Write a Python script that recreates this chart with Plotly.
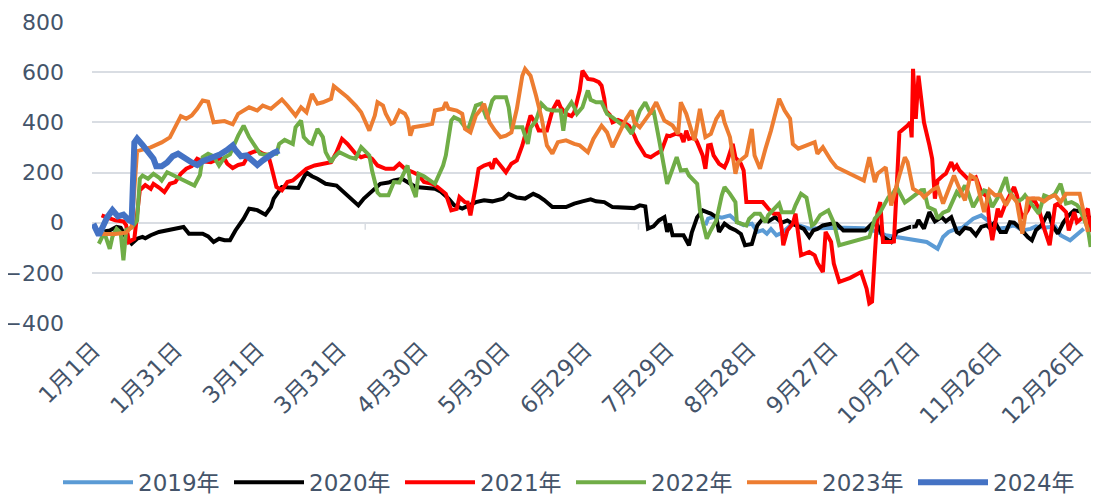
import plotly.graph_objects as go

# ---- axis labels -------------------------------------------------------
tick_days = [0, 30, 60, 90, 120, 150, 180, 210, 240, 270, 300, 330, 360]
tick_text = ["1月1日", "1月31日", "3月1日", "3月31日", "4月30日", "5月30日", "6月29日",
             "7月29日", "8月28日", "9月27日", "10月27日", "11月26日", "12月26日"]
y_ticks = [-400, -200, 0, 200, 400, 600, 800]

# ---- series (day index from 1月1日, value) ------------------------------
d2019 = [224, 225, 228, 230, 233, 236, 238, 241, 243, 245, 246.5, 248, 250, 252, 254.5, 256, 258, 262,
         265, 270, 275, 282, 285, 290, 294, 298, 300, 305, 309, 311, 313, 316, 318, 320, 322, 325, 327,
         331, 334, 337, 340, 343, 345, 348, 352, 354, 357.5, 360.5, 362.5]
v2019 = [-10, 16, 25, 20, 29, 0, -10, -4, -37, -30, -44, -25, -50, -40, -17, 0, -10, -24,
         -22, -20, -20, -22, -30, -50, -57, -68, -70, -77, -104, -57, -37, -24, -20, 0, 16, 29, 10,
         -24, -20, -10, -31, -25, -15, -20, -15, -50, -70, -44, -24]

d2020 = [4, 6, 8.5, 10, 12, 14, 16, 18, 19, 21, 24, 33, 35, 40, 42, 44, 46, 48, 50, 52, 55, 57, 60, 63,
         65, 66, 69, 71, 73, 75, 78, 80, 82, 85, 89, 91, 94, 97, 99, 101, 104, 105, 108, 110, 113, 115,
         118, 125, 127, 130, 132, 135, 137, 140, 143, 146, 150, 152, 155, 158, 161, 163, 165, 168, 173,
         176, 179, 182, 184, 187, 190, 193, 196, 198, 200, 202, 203, 205, 207, 209, 210, 211, 212, 214,
         216, 218, 219, 221, 223, 225, 226, 228, 229, 231, 233, 235, 237, 238.5, 241, 243, 245, 247,
         249.5, 252, 254, 256, 258, 260, 262, 263.5, 265, 267, 270, 272, 274.5, 282.5, 285, 287, 289,
         292, 294, 296, 299, 301, 302, 304, 306, 308, 310.5, 312, 314, 316, 317, 319, 321, 323, 325,
         327, 328, 330, 332, 334, 335.5, 337, 339, 342, 343.5, 345, 347, 348, 349.5, 351, 353, 355,
         357, 359, 361, 363, 365]
v2020 = [-35, -31, -17, -20, -60, -84, -64, -57, -62, -50, -37, -17, -44, -44, -55, -77, -64, -70, -70,
         -31, 16, 56, 50, 32, 62, 96, 142, 142, 138, 138, 200, 185, 175, 155, 148, 129, 100, 69, 96,
         115, 142, 155, 160, 168, 175, 160, 142, 135, 125, 96, 70, 56, 65, 82, 89, 85, 96, 115, 100,
         96, 115, 105, 90, 62, 62, 76, 85, 93, 85, 82, 62, 60, 62, 58, 69, 65, -24, -15, 9, 22, -37,
         -4, -50, -48, -50, -90, -40, 22, 49, 40, 36, 22, -37, -4, -20, -30, -45, -90, -85, -11, 16,
         5, 22, 0, 9, -5, -17, -25, -57, -31, -25, -11, -4, -4, -31, -31, -4, -10, -57, -77, -37, -30,
         -17, -15, 10, -24, 42, 5, 22, 5, 22, -37, -44, -20, -25, -50, -17, -10, -20, 2, -37, -37, 2,
         0, -20, -57, -70, -30, -10, 9, 42, -11, -44, 0, 29, 49, 45, 36, 16]

d2021 = [3, 6, 8, 11, 12, 13, 15, 17, 18, 19, 21, 22, 24, 26, 28, 30, 32, 34, 36, 38, 40, 43, 46, 48,
         49, 51, 53, 55, 57, 60, 62, 64, 65, 67, 69, 71, 73, 76, 78, 81, 85, 87, 89, 91, 93, 96, 98,
         100, 102, 104, 107, 110, 112, 114, 117, 119, 121, 124, 126, 129, 131, 133, 134, 136, 137, 138,
         140, 141, 143, 145, 146, 147, 149, 151, 153, 155, 157, 158, 160, 162, 163, 166, 168, 170, 171,
         173, 175, 176, 178, 179, 181, 183, 185, 186, 187, 187.5, 189, 190, 192, 194, 196, 198, 199,
         202, 204, 206, 208, 210, 211, 213, 215, 216, 217, 218, 220, 221, 223, 224, 225, 226, 227, 229,
         231, 232, 234, 235, 237, 238, 239, 242, 245, 247, 249, 251, 252, 252.5, 254, 256, 257, 259,
         262, 264, 265, 267, 268, 270, 271, 273, 277, 281, 283, 284, 285, 286, 287, 288, 289, 292, 293,
         294, 295, 298, 299, 299.5, 300, 301, 302, 303, 304, 306, 307, 308, 309, 311, 312, 314, 315,
         316, 317, 320, 322, 323, 325, 327, 328, 329, 331, 332, 334, 337, 338, 340, 342, 344, 346, 348,
         350, 352, 353, 356, 357, 359, 360, 362, 364, 365]
v2021 = [29, 15, 9, 5, -10, -77, -64, 129, 142, 150, 135, 155, 140, 122, 155, 162, 195, 215, 225, 255,
         245, 241, 255, 255, 235, 218, 230, 235, 275, 288, 275, 268, 230, 142, 129, 162, 168, 195, 215,
         228, 235, 241, 281, 334, 314, 275, 261, 268, 255, 228, 215, 215, 235, 215, 201, 190, 162, 155,
         142, 115, 49, 55, 102, 82, 80, 29, 148, 215, 228, 235, 215, 255, 228, 201, 235, 248, 308, 347,
         427, 394, 367, 367, 447, 487, 460, 434, 425, 440, 527, 606, 573, 570, 560, 546, 494, 447, 430,
         400, 410, 400, 387, 347, 321, 268, 261, 275, 288, 347, 345, 354, 350, 321, 367, 334, 340, 321,
         268, 215, 308, 310, 268, 235, 221, 245, 314, 260, 235, 208, 82, 82, 82, 56, 36, 36, -30, -90,
         -31, -4, 36, -130, -117, -130, -160, -197, -37, -77, -163, -236, -220, -197, -263, -322, -315,
         -130, 42, 82, -77, -77, -75, 135, 360, 387, 400, 340, 613, 414, 586, 494, 400, 308, 255, 96,
         168, 188, 195, 241, 215, 228, 208, 175, 175, 181, 122, 105, -4, -70, 56, 22, 80, 142, 110, 16,
         49, 100, 56, -24, -90, 69, 75, 42, -31, 42, 2, 20, 56, -37]

d2022 = [2, 4, 6, 7, 8.5, 10, 11, 12, 14, 16, 17, 18, 20, 22, 24, 25, 27, 30, 33, 37, 39, 40, 42, 44,
         46, 48, 50, 52, 53, 55, 57, 59, 61, 63, 65, 67, 68, 70, 73, 74, 76, 77, 79, 80, 82, 84, 85, 87,
         88, 90, 92, 94, 96, 98, 99, 101, 102, 104, 105, 108, 110, 112, 115, 116, 118, 119, 121, 125,
         128, 129, 131, 132, 134, 137, 138, 140, 142, 144, 146, 147, 151, 152, 153, 155, 157, 159, 160,
         162, 164, 166, 168, 171, 172, 173, 175, 176, 177, 179, 181, 182, 184, 186, 188, 190, 193, 195,
         197, 200, 202, 204, 205, 207, 208, 210, 212, 213.5, 215, 217, 218, 221, 222, 224.5, 226, 228,
         230, 231, 233, 235, 235.5, 237, 239, 240, 242, 244, 246, 247, 249.5, 251, 252, 256, 257, 259,
         261, 263, 264, 266, 269, 271, 273, 284, 286, 288, 291, 292, 294, 296, 297, 299, 303, 304,
         305.5, 308, 309, 311, 313, 316, 317, 319, 320, 322, 324, 326, 327, 329, 331, 334, 335, 338,
         340, 341, 343, 346, 348, 350, 352, 354, 356, 358, 360, 361, 364, 365]
v2022 = [-84, -40, -104, -55, -24, -40, -150, -30, -20, 9, 175, 188, 175, 195, 180, 168, 201, 185, 168,
         148, 190, 261, 275, 265, 228, 260, 272, 328, 347, 387, 341, 308, 275, 270, 275, 275, 314, 330,
         314, 380, 407, 341, 318, 314, 374, 341, 281, 241, 260, 281, 270, 260, 255, 301, 290, 268, 208,
         120, 109, 109, 162, 160, 228, 160, 102, 195, 185, 155, 228, 268, 407, 420, 410, 367, 400, 467,
         475, 414, 487, 500, 500, 460, 380, 378, 380, 314, 378, 407, 474, 452, 447, 447, 367, 447, 480,
         460, 434, 460, 527, 490, 480, 480, 434, 420, 394, 385, 354, 447, 480, 434, 450, 334, 270, 155,
         215, 261, 208, 210, 188, 155, 49, -64, -30, 9, 109, 142, 115, 82, 2, -5, -11, 15, 36, 36, 2,
         30, 62, 76, 42, 42, 70, 115, 100, -11, -4, 30, 49, 0, -90, -57, 16, 42, 102, 105, 142, 102, 80,
         96, 129, 130, 62, 50, 16, 40, 49, 122, 109, 148, 125, 62, 100, 129, 125, 62, 100, 181, 130, 82,
         95, 109, 80, 36, 109, 100, 115, 155, 76, 82, 70, 56, -24, -97]

d2023 = [1, 3, 8, 12, 14, 16, 21, 25, 28, 30, 32, 34, 36, 38, 40, 42, 44, 48, 51, 53, 55, 57, 60, 62,
         65, 69, 71, 74, 76, 78, 80, 82, 84, 87, 88, 90, 93, 96, 98, 101, 103, 104, 106, 107, 109, 110,
         112, 114, 115, 116, 117, 121, 124, 125, 128, 129, 130, 133, 135, 136, 138, 140, 142, 143, 145,
         147, 149, 151, 153, 155, 157, 158, 160, 162, 164, 166, 168, 170, 173, 176, 178, 181, 183, 186,
         188, 190, 193, 195, 197, 198, 200, 203, 204, 206, 209, 212, 214, 215, 217, 220, 222, 224, 226,
         228, 230, 231, 233, 235, 236, 239, 241, 242, 244, 246, 248, 251, 253, 255, 256, 258, 261, 264,
         265, 267, 270, 272, 282, 284, 286, 287, 290, 292, 295, 297, 298, 300, 303, 304, 307, 309, 311,
         313, 315, 317, 319, 321, 323, 326, 328, 330, 332, 334, 336, 338, 340, 342, 346, 348, 350, 352,
         354, 356, 361, 364]
v2023 = [-30, -45, -45, -40, -17, 285, 300, 320, 340, 385, 425, 414, 427, 454, 487, 482, 400, 405, 392,
         434, 447, 460, 447, 467, 454, 491, 467, 427, 460, 440, 513, 474, 480, 494, 544, 527, 500, 467,
         440, 367, 427, 480, 467, 434, 394, 400, 447, 434, 414, 347, 380, 387, 394, 447, 454, 480, 454,
         447, 434, 374, 360, 427, 454, 474, 400, 367, 341, 347, 360, 454, 586, 613, 586, 507, 420, 308,
         275, 321, 328, 314, 308, 281, 334, 387, 360, 301, 374, 414, 447, 400, 380, 427, 440, 480, 407,
         387, 354, 480, 434, 328, 454, 341, 354, 414, 447, 400, 341, 195, 241, 268, 374, 268, 215, 295,
         367, 494, 447, 414, 314, 295, 308, 321, 275, 301, 248, 221, 168, 261, 162, 195, 221, 69, 188,
         261, 241, 135, 115, 102, 130, 142, 76, 135, 188, 135, 89, 188, 175, 42, 129, 109, 112, 69, 109,
         82, -44, 96, 96, 85, 102, 109, 82, 115, 115, -37]

d2024 = [0, 2, 5, 7, 9, 11, 13, 14, 15, 16, 18, 20, 22, 23, 25, 27, 29, 31, 33, 36, 38, 40, 43, 46,
         49, 51, 52, 54, 56, 58, 60, 62, 64, 66, 68]
v2024 = [-5, -50, 20, 50, 25, 32, 10, 5, 320, 335, 310, 280, 255, 225, 225, 240, 265, 275, 258, 240,
         230, 245, 258, 270, 290, 308, 290, 265, 268, 250, 230, 248, 265, 278, 288]

series = [
    ("2019年", d2019, v2019, "#5B9BD5", 4),
    ("2020年", d2020, v2020, "#000000", 4),
    ("2021年", d2021, v2021, "#FF0000", 4),
    ("2022年", d2022, v2022, "#70AD47", 4),
    ("2023年", d2023, v2023, "#ED7D31", 4),
    ("2024年", d2024, v2024, "#4472C4", 6),
]

FONT = "DejaVu Sans, Noto Sans CJK SC, sans-serif"
TXT = "#44546A"

fig = go.Figure()
for name, xs, ys, color, w in series:
    fig.add_trace(go.Scatter(x=xs, y=ys, name=name, mode="lines",
                             line=dict(color=color, width=w, shape="linear"),
                             hoverinfo="skip"))

# small tick marks on the zero line every 100 categories (Excel style)
for k in (100, 200, 300):
    fig.add_shape(type="line", xref="x", yref="y", x0=k - 0.5, x1=k - 0.5,
                  ysizemode="pixel", yanchor=0, y0=0, y1=-7,
                  line=dict(color="#D9DDE3", width=1.5))

# the page body adds an 8px offset, so the figure is 8px smaller than the window
fig.update_layout(
    width=1091, height=489,
    margin=dict(l=84, r=7, t=13.5, b=174.3, autoexpand=False),
    paper_bgcolor="white", plot_bgcolor="white",
    font=dict(family=FONT, size=22, color=TXT),
    showlegend=True,
    legend=dict(orientation="h", xref="paper", yref="paper",
                x=-0.034, xanchor="left", y=-0.529, yanchor="middle",
                font=dict(size=23, color=TXT), entrywidth=86, entrywidthmode="pixels",
                itemwidth=70, traceorder="normal", bgcolor="rgba(0,0,0,0)"),
)
fig.update_xaxes(range=[-0.5, 365.5], tickmode="array", tickvals=tick_days, ticktext=tick_text,
                 tickangle=-45, showgrid=False, zeroline=False, showline=False, ticks="",
                 automargin=False,
                 tickfont=dict(family=FONT, size=23, color=TXT), ticklabelstandoff=8)
fig.update_yaxes(range=[-400, 800], tickmode="array", tickvals=y_ticks, showgrid=True,
                 gridcolor="#D9DDE3", gridwidth=1.5, zeroline=False, showline=False, ticks="",
                 automargin=False,
                 tickfont=dict(family=FONT, size=22, color=TXT), ticklabelstandoff=27)

fig.write_html("out.html")
